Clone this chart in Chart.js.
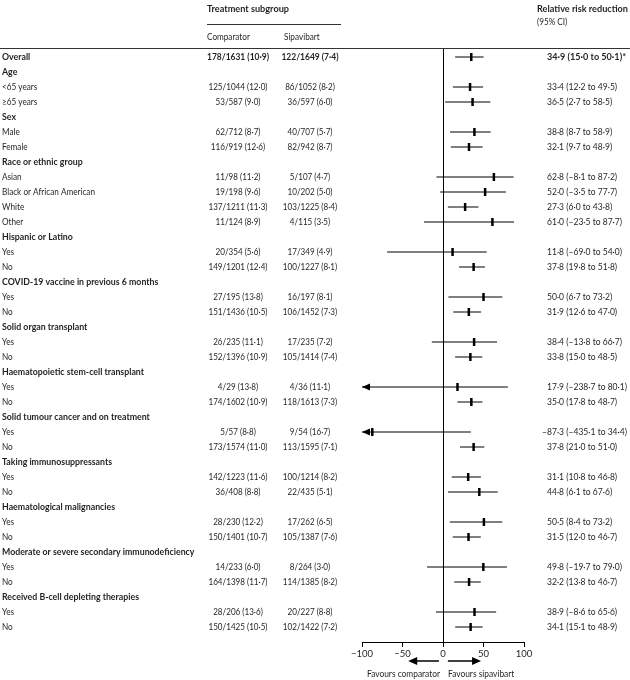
<!DOCTYPE html>
<html>
<head>
<meta charset="utf-8">
<script src="https://cdn.jsdelivr.net/npm/chart.js@4.4.1/dist/chart.umd.min.js"></script>
<style>
  html, body { margin: 0; padding: 0; background: #ffffff; }
  #wrap { width: 630px; height: 680px; position: relative; }
</style>
</head>
<body>
<div id="wrap"><canvas id="c" width="630" height="680"></canvas></div>
<script>
// ---------------- DATA ----------------
const subgroups = ["Overall","Age","<65 years","≥65 years","Sex","Male","Female","Race or ethnic group","Asian","Black or African American","White","Other","Hispanic or Latino","Yes","No","COVID-19 vaccine in previous 6 months","Yes","No","Solid organ transplant","Yes","No","Haematopoietic stem-cell transplant","Yes","No","Solid tumour cancer and on treatment","Yes","No","Taking immunosuppressants","Yes","No","Haematological malignancies","Yes","No","Moderate or severe secondary immunodeficiency","Yes","No","Received B-cell depleting therapies","Yes","No"];
const boldRows = [0,1,4,7,12,15,18,21,24,27,30,33,36];
const comparator = ["178/1631 (10·9)",null,"125/1044 (12·0)","53/587 (9·0)",null,"62/712 (8·7)","116/919 (12·6)",null,"11/98 (11·2)","19/198 (9·6)","137/1211 (11·3)","11/124 (8·9)",null,"20/354 (5·6)","149/1201 (12·4)",null,"27/195 (13·8)","151/1436 (10·5)",null,"26/235 (11·1)","152/1396 (10·9)",null,"4/29 (13·8)","174/1602 (10·9)",null,"5/57 (8·8)","173/1574 (11·0)",null,"142/1223 (11·6)","36/408 (8·8)",null,"28/230 (12·2)","150/1401 (10·7)",null,"14/233 (6·0)","164/1398 (11·7)",null,"28/206 (13·6)","150/1425 (10·5)"];
const sipavibart = ["122/1649 (7·4)",null,"86/1052 (8·2)","36/597 (6·0)",null,"40/707 (5·7)","82/942 (8·7)",null,"5/107 (4·7)","10/202 (5·0)","103/1225 (8·4)","4/115 (3·5)",null,"17/349 (4·9)","100/1227 (8·1)",null,"16/197 (8·1)","106/1452 (7·3)",null,"17/235 (7·2)","105/1414 (7·4)",null,"4/36 (11·1)","118/1613 (7·3)",null,"9/54 (16·7)","113/1595 (7·1)",null,"100/1214 (8·2)","22/435 (5·1)",null,"17/262 (6·5)","105/1387 (7·6)",null,"8/264 (3·0)","114/1385 (8·2)",null,"20/227 (8·8)","102/1422 (7·2)"];
const rrr   = [34.9,null,33.4,36.5,null,38.8,32.1,null,62.8,52.0,27.3,61.0,null,11.8,37.8,null,50.0,31.9,null,38.4,33.8,null,17.9,35.0,null,-87.3,37.8,null,31.1,44.8,null,50.5,31.5,null,49.8,32.2,null,38.9,34.1];
const ciLow = [15.0,null,12.2,2.7,null,8.7,9.7,null,-8.1,-3.5,6.0,-23.5,null,-69.0,19.8,null,6.7,12.6,null,-13.8,15.0,null,-238.7,17.8,null,-435.1,21.0,null,10.8,6.1,null,8.4,12.0,null,-19.7,13.8,null,-8.6,15.1];
const ciHigh= [50.1,null,49.5,58.5,null,58.9,48.9,null,87.2,77.7,43.8,87.7,null,54.0,51.8,null,73.2,47.0,null,66.7,48.5,null,80.1,48.7,null,34.4,51.0,null,46.8,67.6,null,73.2,46.7,null,79.0,46.7,null,65.6,48.9];
const xTicks = [-100,-50,0,50,100];
const xMin = -100, xMax = 100;

// ---------------- HELPERS ----------------
const INK = "#231f20";
const FONT = "Lato";
const REG = "9.5px " + FONT, BOLD = "bold 9.5px " + FONT;
function fmt(v){ return (v<0?"–":"") + Math.abs(v).toFixed(1).replace(".", "·"); }
const rrrText = rrr.map((v,i)=> v===null ? null : fmt(v)+" ("+fmt(ciLow[i])+" to "+fmt(ciHigh[i])+")" + (i===0?"*":""));

const ciData = [];
const ptData = [];
rrr.forEach((v,i)=>{
  if (v===null) return;
  ciData.push({x: Math.max(ciLow[i], xMin), y: i});
  ciData.push({x: Math.min(ciHigh[i], xMax), y: i});
  ciData.push({x: null, y: null});
  ptData.push({x: v, y: i});
});

function fitScale(ctx, font, sample, target){
  ctx.font = font;
  return target / ctx.measureText(sample).width;
}
function txt(ctx, str, x, y, align, font, sx){
  ctx.font = font;
  const w = ctx.measureText(str).width * sx;
  const left = align === "left" ? x : (align === "center" ? x - w/2 : x - w);
  ctx.save();
  ctx.translate(left, y);
  ctx.scale(sx, 1);
  ctx.textAlign = "left";
  ctx.fillText(str, 0, 0);
  ctx.restore();
}

const tablePlugin = {
  id: "table",
  afterDraw(chart){
    const ctx = chart.ctx, ys = chart.scales.y, xs = chart.scales.x;
    ctx.save();
    ctx.fillStyle = INK;
    ctx.textBaseline = "middle";
    const sHead  = fitScale(ctx, BOLD, "Relative risk reduction", 91);
    const sBoldL = fitScale(ctx, BOLD, "Haematopoietic stem-cell transplant", 142);
    const sRegL  = fitScale(ctx, REG, "Black or African American", 93);
    const sNum   = fitScale(ctx, REG, "125/1044 (12·0)", 59);
    const sNumB  = fitScale(ctx, BOLD, "178/1631 (10·9)", 62);
    const sRrr   = fitScale(ctx, REG, "17·9 (–238·7 to 80·1)", 80);
    const sRrrB  = fitScale(ctx, BOLD, "34·9 (15·0 to 50·1)*", 79);
    const sFav   = fitScale(ctx, REG, "Favours comparator", 73);
    // headers
    txt(ctx, "Treatment subgroup", 207, 9, "left", BOLD, sHead);
    txt(ctx, "Relative risk reduction", 537, 9, "left", BOLD, sHead);
    txt(ctx, "(95% CI)", 537, 22, "left", REG, sRegL);
    txt(ctx, "Comparator", 207, 37, "left", REG, sRegL);
    txt(ctx, "Sipavibart", 284, 37, "left", REG, sRegL);
    ctx.strokeStyle = "#333";
    ctx.lineWidth = 1;
    ctx.beginPath(); ctx.moveTo(207, 24.5); ctx.lineTo(341, 24.5); ctx.stroke();
    ctx.beginPath(); ctx.moveTo(0, 48.5); ctx.lineTo(630, 48.5); ctx.stroke();
    // rows
    subgroups.forEach((s,i)=>{
      const y = ys.getPixelForValue(i);
      const isB = boldRows.includes(i);
      txt(ctx, s, 2, y, "left", isB ? BOLD : REG, isB ? sBoldL : sRegL);
      const rowB = i === 0;
      const nf = rowB ? BOLD : REG, ns = rowB ? sNumB : sNum;
      if (comparator[i]) txt(ctx, comparator[i], 238, y, "center", nf, ns);
      if (sipavibart[i]) txt(ctx, sipavibart[i], 310, y, "center", nf, ns);
      if (rrrText[i]) {
        const rf = rowB ? BOLD : REG, rs = rowB ? sRrrB : sRrr;
        let x0 = 547;
        if (rrrText[i].startsWith("–")) { ctx.font = rf; x0 -= ctx.measureText("–").width * rs; }
        txt(ctx, rrrText[i], x0, y, "left", rf, rs);
      }
    });
    // left arrowheads for CIs beyond axis
    ctx.fillStyle = "#000";
    rrr.forEach((v,i)=>{
      if (v===null || ciLow[i] >= xMin) return;
      const y = ys.getPixelForValue(i), x = xs.getPixelForValue(xMin);
      ctx.beginPath(); ctx.moveTo(x, y); ctx.lineTo(x+8, y-3.5); ctx.lineTo(x+8, y+3.5); ctx.closePath(); ctx.fill();
    });
    // favours arrows
    const ay = 661;
    const x0 = xs.getPixelForValue(0);
    ctx.strokeStyle = "#000"; ctx.lineWidth = 1.5;
    const la = xs.getPixelForValue(-43), lb = xs.getPixelForValue(-5);
    const ra = xs.getPixelForValue(6), rb = xs.getPixelForValue(47);
    ctx.beginPath(); ctx.moveTo(lb, ay); ctx.lineTo(la+8, ay); ctx.stroke();
    ctx.beginPath(); ctx.moveTo(la, ay); ctx.lineTo(la+9, ay-4); ctx.lineTo(la+9, ay+4); ctx.closePath(); ctx.fill();
    ctx.beginPath(); ctx.moveTo(ra, ay); ctx.lineTo(rb-8, ay); ctx.stroke();
    ctx.beginPath(); ctx.moveTo(rb, ay); ctx.lineTo(rb-9, ay-4); ctx.lineTo(rb-9, ay+4); ctx.closePath(); ctx.fill();
    ctx.fillStyle = INK;
    txt(ctx, "Favours comparator", x0-3, 674, "right", REG, sFav);
    txt(ctx, "Favours sipavibart", x0+5, 674, "left", REG, sFav);
    ctx.restore();
  }
};

new Chart(document.getElementById("c"), {
  type: "scatter",
  data: {
    datasets: [
      { type: "line", data: ciData, showLine: true, spanGaps: false, borderColor: "#000", borderWidth: 1,
        pointRadius: 0, pointHoverRadius: 0, fill: false, clip: false },
      { data: ptData, pointStyle: "line", rotation: 90, radius: 4, pointHoverRadius: 4,
        borderColor: "#000", borderWidth: 2.5, backgroundColor: "#000" }
    ]
  },
  options: {
    responsive: false,
    animation: false,
    events: [],
    layout: { padding: { left: 362, right: 106, top: 48, bottom: 0 } },
    plugins: { legend: { display: false }, tooltip: { enabled: false } },
    scales: {
      x: {
        type: "linear", min: xMin, max: xMax,
        afterBuildTicks(s){ s.ticks = xTicks.map(v=>({value:v})); },
        afterFit(s){ s.height = 38; },
        border: { display: true, color: "#000", width: 1 },
        grid: { drawOnChartArea: true, drawTicks: true, tickLength: 5, tickColor: "#000", lineWidth: 1,
                color: ctx => (ctx.tick && ctx.tick.value === 0) ? "#000" : "rgba(0,0,0,0)" },
        ticks: { color: INK, font: { family: FONT, size: 9.5 }, padding: 1,
                 callback: v => v < 0 ? "−" + Math.abs(v) : String(v) }
      },
      y: { type: "linear", reverse: true, min: -0.6, max: 39, display: false }
    }
  },
  plugins: [tablePlugin]
});
</script>
</body>
</html>
